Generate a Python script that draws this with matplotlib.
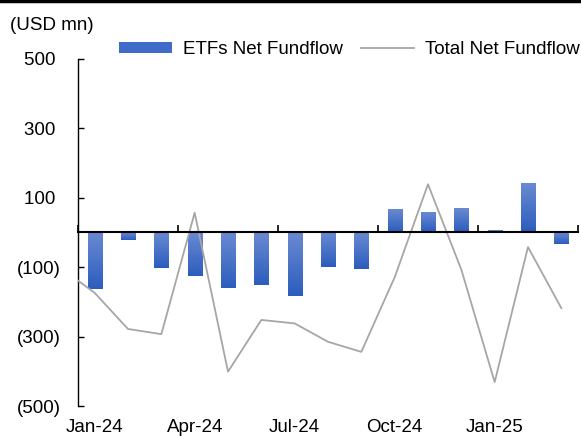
import numpy as np
import matplotlib
matplotlib.use("Agg")
import matplotlib.pyplot as plt
from matplotlib.patches import Patch
from matplotlib.lines import Line2D
from matplotlib.colors import LinearSegmentedColormap

plt.rcParams['font.family'] = ['Liberation Sans', 'DejaVu Sans']

months = ["Jan-24", "Feb-24", "Mar-24", "Apr-24", "May-24", "Jun-24", "Jul-24",
          "Aug-24", "Sep-24", "Oct-24", "Nov-24", "Dec-24", "Jan-25", "Feb-25", "Mar-25"]
etf_flow = [-162, -22, -101, -124, -159, -150, -183, -98, -104, 64, 55, 69, 3, 139, -34]
# total net fundflow, first value is Dec-23 (partly visible at left edge)
total_months = ["Dec-23"] + months
total_flow = [-103, -174, -278, -293, 57, -401, -252, -262, -315, -344,
              -129, 139, -107, -431, -42, -218]
xtick_labels = ["Jan-24", "Apr-24", "Jul-24", "Oct-24", "Jan-25"]
yticks = [500, 300, 100, -100, -300, -500]
ytick_labels = ["500 ", "300 ", "100 ", "(100)", "(300)", "(500)"]

FS = 13.5

fig = plt.figure(figsize=(5.81, 4.36), dpi=100)
ax = fig.add_axes([78/581, 1-406/436, 500/581, 347/436])

x = np.arange(len(months))
bars = ax.bar(x, etf_flow, width=0.43, color="#3f6cc8", zorder=2)

cmap = LinearSegmentedColormap.from_list("g", ["#6a8ad2", "#2c5dbd"])
grad = np.linspace(0, 1, 64).reshape(-1, 1)
for b in bars:
    x0, y0 = b.get_x(), b.get_y()
    w, h = b.get_width(), b.get_height()
    ylo, yhi = min(y0, y0 + h), max(y0, y0 + h)
    ax.imshow(grad, cmap=cmap, aspect='auto', extent=(x0, x0 + w, ylo, yhi),
              origin='upper', zorder=2.1, interpolation='bilinear')
    b.set_visible(False)

xt = np.arange(-1, len(months))
ax.plot(xt, total_flow, color="#a6a6a6", lw=1.3, zorder=3, clip_on=True)

ax.set_xlim(-0.5, len(months) - 0.5)
ax.set_ylim(-500, 500)

for s in ["top", "right"]:
    ax.spines[s].set_visible(False)
ax.spines["bottom"].set_position(("data", 0))
ax.spines["bottom"].set_linewidth(1.5)
ax.spines["bottom"].set_zorder(4)
ax.spines["left"].set_linewidth(1.0)

ax.set_yticks(yticks)
ax.set_yticklabels(ytick_labels)
ax.tick_params(axis='y', direction='in', length=4, width=1, labelsize=FS, pad=12.5)

ax.set_xticks(np.arange(-0.5, len(months), 3))
ax.set_xticklabels([])
ax.tick_params(axis='x', direction='in', length=5, width=1.2)

sec = ax.secondary_xaxis(location=0)
sec.set_xticks([months.index(m) for m in xtick_labels])
sec.set_xticklabels(xtick_labels)
sec.spines["bottom"].set_visible(False)
sec.tick_params(axis='x', length=0, labelsize=FS, pad=9)

handles = [Patch(facecolor="#3f6cc8", edgecolor="none"),
           Line2D([0], [0], color="#a6a6a6", lw=1.3)]
fig.legend(handles, ["ETFs Net Fundflow", "Total Net Fundflow"], ncol=2,
           loc="center left", bbox_to_anchor=(119/581, 1-50/436), frameon=False,
           fontsize=FS, handlelength=2.8, handleheight=0.5, handletextpad=0.6,
           columnspacing=1.0, borderpad=0, borderaxespad=0)

fig.text(10/581, 1-25/436, "(USD mn)", fontsize=FS, va="center", ha="left")
fig.add_artist(Line2D([0, 1], [1 - 1.5/436, 1 - 1.5/436], color="black", lw=2.5,
                      transform=fig.transFigure))

fig.savefig("out.png", dpi=100)
